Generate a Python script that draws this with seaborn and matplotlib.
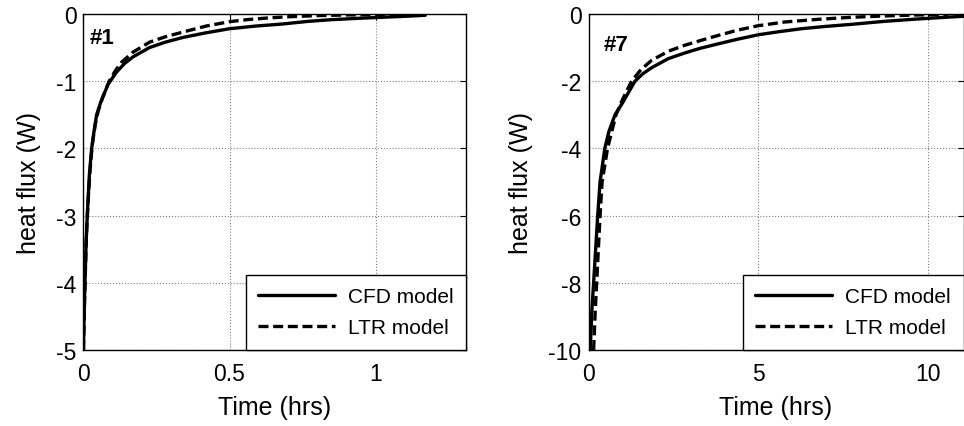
import pandas as pd
import seaborn as sns
import matplotlib
matplotlib.use('Agg')
import matplotlib.pyplot as plt

# case #1 (hours, W)
t1_cfd = [0.0, 0.002, 0.005, 0.009, 0.013, 0.02, 0.028, 0.036, 0.045, 0.06, 0.084, 0.112,
          0.14, 0.169, 0.226, 0.28, 0.34, 0.42, 0.5, 0.59, 0.68, 0.77, 0.85, 0.94,
          1.02, 1.1, 1.17]
q1_cfd = [-5.0, -4.5, -4.0, -3.4, -3.0, -2.4, -2.0, -1.75, -1.5, -1.3, -1.05, -0.87,
          -0.74, -0.64, -0.5, -0.42, -0.35, -0.28, -0.22, -0.18, -0.15, -0.11, -0.085, -0.065,
          -0.05, -0.035, -0.02]
t1_ltr = [0.0, 0.003, 0.006, 0.01, 0.015, 0.022, 0.03, 0.04, 0.05, 0.065, 0.088, 0.11,
          0.13, 0.169, 0.226, 0.28, 0.34, 0.42, 0.5, 0.56, 0.63, 0.71, 0.8, 0.9, 1.0, 1.17]
q1_ltr = [-5.0, -4.4, -3.9, -3.3, -2.85, -2.35, -1.95, -1.65, -1.45, -1.25, -1.0, -0.84,
          -0.72, -0.57, -0.42, -0.34, -0.27, -0.18, -0.115, -0.085, -0.06, -0.04, -0.025,
          -0.015, -0.01, -0.005]

# case #7
t7_cfd = [0.05, 0.1, 0.15, 0.21, 0.27, 0.34, 0.41, 0.48, 0.6, 0.78, 1.0, 1.13, 1.37, 1.6,
          1.86, 2.35, 2.84, 3.3, 3.82, 4.4, 5.0, 5.6, 6.27, 7.0, 7.74, 8.72, 9.7, 10.68, 11.05]
q7_cfd = [-10.0, -8.8, -8.0, -7.0, -6.0, -5.0, -4.5, -4.0, -3.5, -3.0, -2.65, -2.42, -2.0, -1.78,
          -1.6, -1.33, -1.16, -1.02, -0.89, -0.75, -0.62, -0.53, -0.44, -0.37, -0.31, -0.22,
          -0.15, -0.09, -0.07]
t7_ltr = [0.15, 0.2, 0.24, 0.34, 0.4, 0.56, 0.81, 1.0, 1.27, 1.55, 1.86, 2.35, 2.84, 3.3,
          3.82, 4.4, 5.0, 5.78, 6.76, 7.74, 8.72, 9.7, 10.6]
q7_ltr = [-10.0, -8.8, -8.0, -6.0, -5.0, -4.0, -3.0, -2.55, -2.0, -1.65, -1.38, -1.11, -0.93,
          -0.79, -0.64, -0.48, -0.35, -0.24, -0.16, -0.1, -0.06, -0.03, -0.02]

sns.set_style('white')
plt.rcParams['font.family'] = ['Liberation Sans', 'DejaVu Sans']
plt.rcParams.update({'text.color': 'black', 'axes.labelcolor': 'black',
                     'xtick.color': 'black', 'ytick.color': 'black'})

fig = plt.figure(figsize=(9.64, 4.27), dpi=100)
ax1 = fig.add_axes([0.0866, 0.178, 0.397, 0.787])
ax2 = fig.add_axes([0.6105, 0.178, 0.389, 0.787])

panels = [
    (ax1, t1_cfd, q1_cfd, t1_ltr, q1_ltr, '#1', (0, 1.31), (-5, 0), [0, 0.5, 1],
     [-5, -4, -3, -2, -1, 0], ['0', '0.5', '1'], (0.017, 0.962)),
    (ax2, t7_cfd, q7_cfd, t7_ltr, q7_ltr, '#7', (0, 11.05), (-10, 0), [0, 5, 10],
     [-10, -8, -6, -4, -2, 0], ['0', '5', '10'], (0.039, 0.94)),
]

for ax, tc, qc, tl, ql, tag, xl, yl, xt, yt, xtl, tagpos in panels:
    sns.lineplot(x=tc, y=qc, ax=ax, color='black', lw=2.4, label='CFD model',
                 estimator=None, sort=False)
    sns.lineplot(x=tl, y=ql, ax=ax, color='black', lw=2.4, label='LTR model',
                 estimator=None, sort=False)
    ax.lines[-1].set_dashes((3, 1.4))
    ax.set_xlim(*xl)
    ax.set_ylim(*yl)
    ax.set_xticks(xt)
    ax.set_xticklabels(xtl)
    ax.set_yticks(yt)
    ax.set_yticklabels([str(v) for v in yt])
    ax.grid(True, linestyle=':', color='#808080', lw=0.8)
    ax.tick_params(direction='in', length=4, width=0.8, color='black', labelcolor='black',
                   labelsize=16.5, top=True, right=True)
    ax.tick_params(axis='x', pad=9)
    ax.tick_params(axis='y', pad=5)
    for s in ax.spines.values():
        s.set_color('black')
        s.set_linewidth(1.0)
    ax.set_xlabel('Time (hrs)', fontsize=18, labelpad=7, color='black')
    ax.set_ylabel('heat flux (W)', fontsize=18, labelpad=11, color='black')
    ax.text(tagpos[0], tagpos[1], tag, transform=ax.transAxes, fontsize=16,
            fontweight='bold', va='top', ha='left', color='black')
    leg = ax.legend(loc='lower right', fontsize=15, frameon=True, fancybox=False,
                    borderaxespad=0, handlelength=3.7, handletextpad=0.62,
                    labelspacing=0.58, borderpad=0.6, labelcolor='black')
    leg.get_frame().set_edgecolor('black')
    leg.get_frame().set_linewidth(1.0)
    leg.get_frame().set_alpha(1)

fig.savefig('out.png', dpi=100)
